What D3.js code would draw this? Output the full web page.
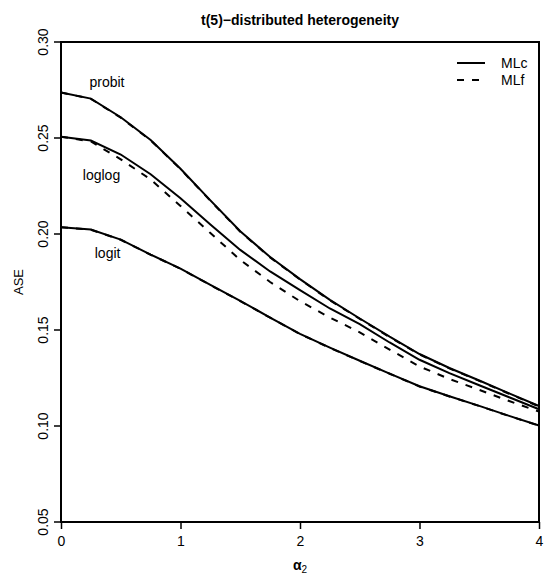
<!DOCTYPE html>
<html>
<head>
<meta charset="utf-8">
<title>t(5)-distributed heterogeneity</title>
<script src="https://d3js.org/d3.v7.min.js"></script>
<style>
  body { margin: 0; background: #fff; }
  text { font-family: "Liberation Sans", Arial, sans-serif; fill: #000; }
</style>
</head>
<body>
<div id="chart"></div>
<script>
// alpha2 grid
const alpha = [0, 0.25, 0.5, 0.75, 1, 1.25, 1.5, 1.75, 2, 2.25, 2.5, 2.75, 3, 3.25, 3.5, 3.75, 4];

// ASE values
const probitMLc = [0.2737, 0.2705, 0.2608, 0.2490, 0.2340, 0.2175, 0.2014, 0.1880, 0.1765, 0.1657, 0.1560, 0.1465, 0.1375, 0.1302, 0.1237, 0.1170, 0.1104];
const probitMLf = [0.2737, 0.2704, 0.2606, 0.2488, 0.2338, 0.2173, 0.2012, 0.1878, 0.1763, 0.1655, 0.1558, 0.1463, 0.1373, 0.1300, 0.1235, 0.1168, 0.1102];
const loglogMLc = [0.2507, 0.2487, 0.2414, 0.2311, 0.2186, 0.2050, 0.1917, 0.1805, 0.1708, 0.1612, 0.1530, 0.1435, 0.1345, 0.1275, 0.1212, 0.1150, 0.1087];
const loglogMLf = [0.2507, 0.2482, 0.2389, 0.2284, 0.2146, 0.2005, 0.1865, 0.1750, 0.1650, 0.1565, 0.1488, 0.1398, 0.1310, 0.1245, 0.1188, 0.1130, 0.1075];
const logitMLc  = [0.2035, 0.2023, 0.1971, 0.1893, 0.1820, 0.1735, 0.1652, 0.1565, 0.1480, 0.1408, 0.1340, 0.1273, 0.1207, 0.1155, 0.1105, 0.1053, 0.1003];
const logitMLf  = [0.2035, 0.2022, 0.1970, 0.1892, 0.1819, 0.1734, 0.1651, 0.1564, 0.1479, 0.1407, 0.1339, 0.1272, 0.1206, 0.1154, 0.1104, 0.1052, 0.1002];

const xTicks = [0, 1, 2, 3, 4];
const yTicks = [0.05, 0.10, 0.15, 0.20, 0.25, 0.30];

const curveLabels = ["probit", "loglog", "logit"];
const labelAlpha = [0.385, 0.339, 0.39];
const labelASE = [0.2768, 0.2281, 0.1875];

const legendNames = ["MLc", "MLf"];

let margin = {top: 42, right: 9, bottom: 56, left: 61};
let w = 548 - margin.left - margin.right;
let h = 578 - margin.top - margin.bottom;

let svg = d3.select("#chart")
    .append("svg")
        .attr("width", 548)
        .attr("height", 578)
    .append("g")
        .attr("transform", "translate(" + margin.left + "," + margin.top + ")");

let xScale = d3.scaleLinear().domain([0, 4]).range([0, w]);
let yScale = d3.scaleLinear().domain([0.05, 0.30]).range([h, 0]);

// axes
let xAxis = d3.axisBottom(xScale).tickValues(xTicks).tickSize(7).tickPadding(4)
    .tickFormat(d3.format("d"));
let yAxis = d3.axisLeft(yScale).tickValues(yTicks).tickSize(7)
    .tickFormat(d3.format(".2f"));

let gx = svg.append("g")
    .attr("transform", "translate(0," + h + ")")
    .call(xAxis);
gx.select(".domain").remove();
gx.selectAll("line").attr("stroke", "#000").attr("stroke-width", 1.5);
gx.selectAll("text").attr("font-size", "14px").attr("dy", "0.95em");

let gy = svg.append("g").call(yAxis);
gy.select(".domain").remove();
gy.selectAll("line").attr("stroke", "#000").attr("stroke-width", 1.5);
gy.selectAll("text")
    .attr("font-size", "14px")
    .attr("text-anchor", "middle")
    .attr("x", 0).attr("dy", 0)
    .attr("transform", d => "translate(-13," + yScale(d) + ") rotate(-90)")
    .attr("y", 0);
gy.selectAll(".tick").attr("transform", null);
gy.selectAll(".tick line").attr("transform", d => "translate(0," + yScale(d) + ")");

// frame
svg.append("rect")
    .attr("width", w).attr("height", h)
    .attr("fill", "none").attr("stroke", "#000").attr("stroke-width", 2);

// curves
let line = d3.line()
    .x((d, i) => xScale(alpha[i]))
    .y(d => yScale(d));

let series = [
    {v: probitMLf, dash: "7,8"},
    {v: loglogMLf, dash: "7,8"},
    {v: logitMLf, dash: "7,8"},
    {v: probitMLc, dash: null},
    {v: loglogMLc, dash: null},
    {v: logitMLc, dash: null}
];

svg.selectAll("path.curve")
    .data(series)
    .enter()
    .append("path")
    .attr("class", "curve")
    .attr("d", d => line(d.v))
    .attr("fill", "none")
    .attr("stroke", "#000")
    .attr("stroke-width", 2)
    .attr("stroke-dasharray", d => d.dash);

// curve labels
svg.selectAll("text.lab")
    .data(curveLabels)
    .enter()
    .append("text")
    .attr("class", "lab")
    .attr("x", (d, i) => xScale(labelAlpha[i]))
    .attr("y", (d, i) => yScale(labelASE[i]))
    .attr("text-anchor", "middle")
    .attr("font-size", "14px")
    .text(d => d);

// legend
let leg = svg.selectAll("g.leg")
    .data(legendNames)
    .enter()
    .append("g")
    .attr("class", "leg")
    .attr("transform", (d, i) => "translate(" + (w - 82) + "," + (21 + i * 17) + ")");
leg.append("line")
    .attr("x1", 0).attr("x2", 28)
    .attr("stroke", "#000").attr("stroke-width", 2)
    .attr("stroke-dasharray", (d, i) => i === 1 ? "7,8" : null);
leg.append("text")
    .attr("x", 44).attr("dy", "0.35em")
    .attr("font-size", "14px")
    .text(d => d);

// title and axis labels
svg.append("text")
    .attr("x", w / 2).attr("y", -17)
    .attr("text-anchor", "middle")
    .attr("font-size", "14px")
    .attr("font-weight", "bold")
    .text("t(5)\u2212distributed heterogeneity");

svg.append("text")
    .attr("transform", "rotate(-90)")
    .attr("x", -h / 2).attr("y", -38)
    .attr("text-anchor", "middle")
    .attr("font-size", "13px")
    .text("ASE");

let xl = svg.append("text")
    .attr("x", w / 2).attr("y", h + 48)
    .attr("text-anchor", "middle")
    .attr("font-size", "14px")
    .attr("font-weight", "bold");
xl.append("tspan").text("\u03b1");
xl.append("tspan").attr("font-size", "10px").attr("font-weight", "normal").attr("dy", "3").text("2");
</script>
</body>
</html>
